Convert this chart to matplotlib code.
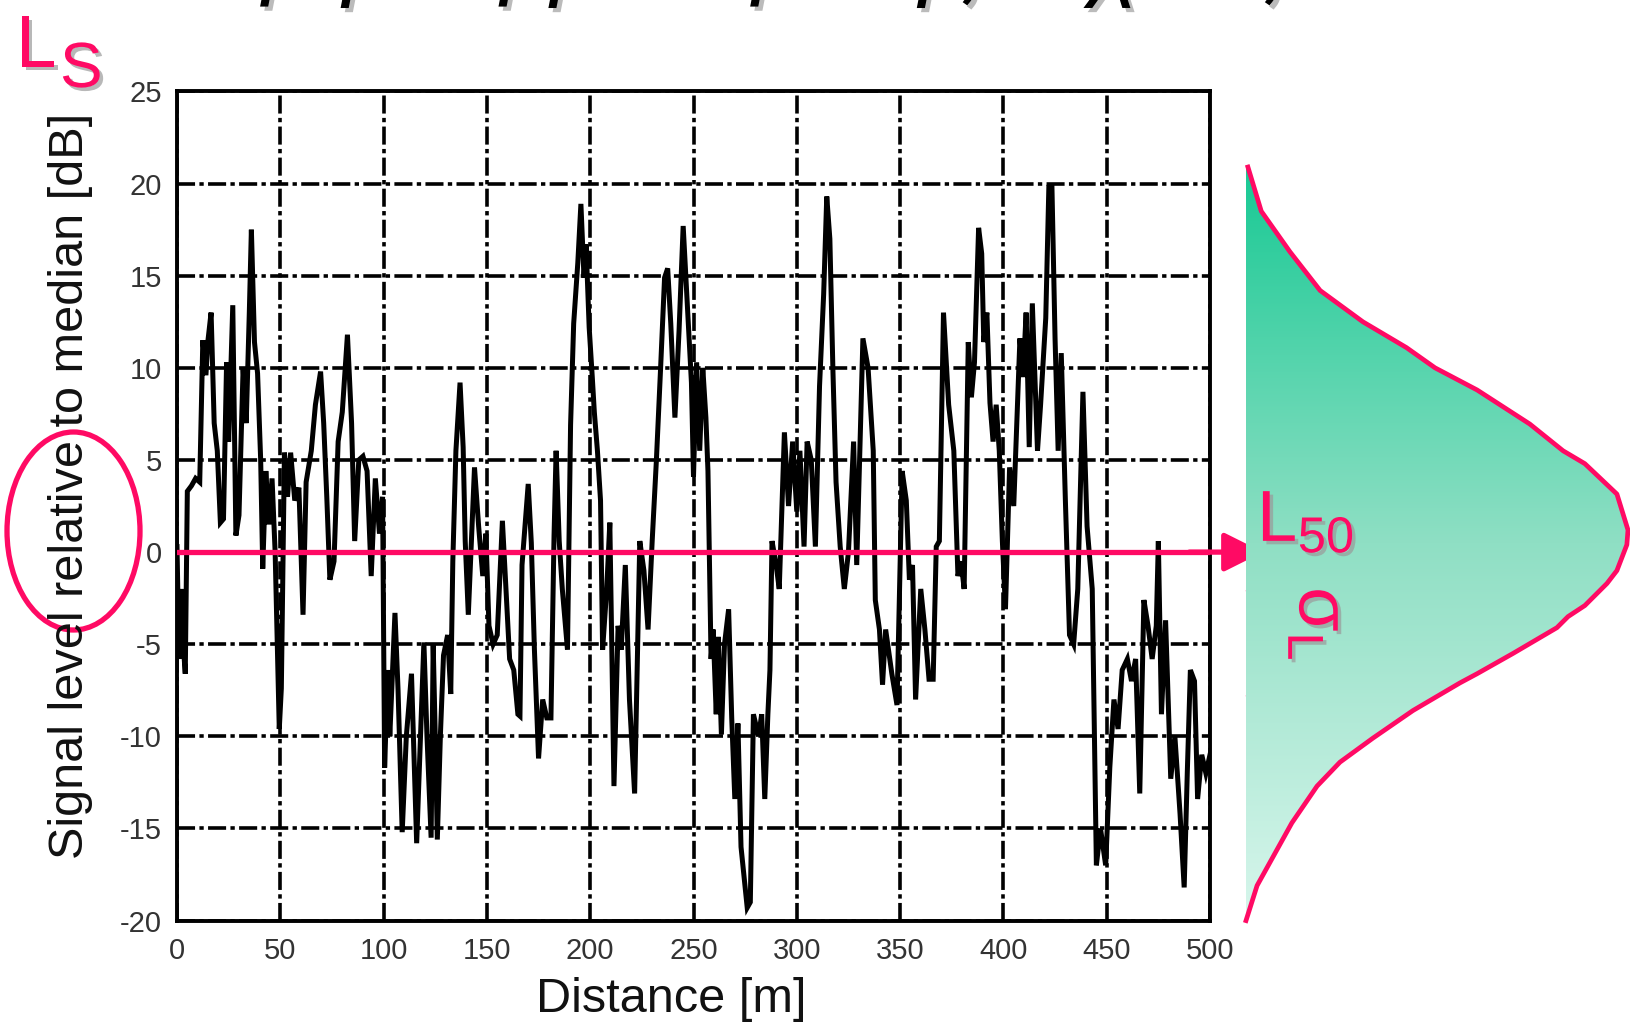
import matplotlib
matplotlib.use("Agg")
import matplotlib.pyplot as plt
import matplotlib.patheffects as pe
from matplotlib.patches import Ellipse, Polygon
from matplotlib.colors import LinearSegmentedColormap
import numpy as np

plt.rcParams['font.family'] = ['Liberation Sans', 'DejaVu Sans']
plt.rcParams['axes.unicode_minus'] = False

# ---------------- data ----------------
distance_m = [0, 1, 2, 3, 4, 5, 7, 9, 11, 12.5, 14, 15, 16.5, 18, 19.5, 21, 22.5, 24, 25, 27,
              28.5, 30, 32, 33.5, 35, 36, 37.5, 39, 40.5, 41.5, 43, 44.5, 46, 47.5, 49.5, 50.5,
              52, 53.5, 55, 57, 59, 61, 62.5, 65, 67, 69.5, 71, 72.5, 74, 76, 78, 80, 82.5, 84.5,
              86, 88, 90, 92, 94, 96, 98, 99.5, 100.5, 102, 103, 105.5, 107, 109, 111, 113.5, 116,
              119.5, 121, 123,
              124, 125, 126, 127.5, 129, 131, 132.5, 133.5, 135, 137, 138.5, 139.5, 141, 144, 146,
              148, 149.5, 151, 153, 155, 157.5, 161, 163, 165, 166, 167, 170, 171.5, 173, 175, 177,
              179, 181, 182.5, 183.5, 185, 186.5, 189, 190.5, 192, 194, 195.5, 197, 198, 199.5, 201,
              202, 203.5, 205, 206, 208, 209.5, 211.5, 213.5, 215, 217, 219, 221.5, 224, 226, 228,
              230, 232, 234, 236, 237.5, 239, 241, 243, 245, 247, 249, 250, 251.5,
              253, 254.5, 256, 257, 258.5, 259.5, 261, 262, 263.5, 265, 267, 268.5, 270, 271.5, 273,
              276, 277.5, 279, 281.5, 283, 284.5, 286, 287, 288, 290, 291.5, 294, 296, 298, 300,
              301.5, 303.5, 305, 307, 309, 311, 313, 314.5, 316, 317.5, 319, 321, 323, 325, 327.5,
              329, 332, 334.5, 337, 338, 340, 341.5, 343, 346, 348.5, 351, 353, 354.5, 356, 357.5,
              360, 362, 364, 366, 367.5, 369, 371, 373.5, 376, 378,
              379.5, 381, 383, 384.5, 386, 388, 389.5, 390.5, 392, 393.5, 395, 396.5, 398, 399.5,
              401, 403, 405, 408, 409.5, 411, 412.5, 414, 416.5, 418, 420.5, 422, 423.5, 425, 426.5,
              428, 430, 432, 434, 436, 438.5, 440.5, 443, 445, 447, 449.5, 451.5, 453.5, 455.5,
              457.5, 460, 462, 464, 466, 468, 470, 472, 474, 475, 476.5, 478.5, 481, 483, 485.5,
              487.5, 489, 490.5, 492.5, 494, 496, 498, 500]

level_db = [0.3, -5.8, -2, -5, -6.6, 3.3, 3.6, 4, 3.8, 11.5, 9.6, 11.5, 13, 7, 5.5, 1.6, 1.8, 10.3, 6, 13.4,
            0.9, 2, 10, 7, 13, 17.5, 11.4, 9.7, 5, -0.9, 4.4, 1.5, 4, 0, -9.6, -7.4,
            5.4, 3, 5.4, 2.8, 3.5, -3.4, 3.8, 5.5, 8, 9.8, 7, 3, -1.5, -0.5, 6, 7.6, 11.8, 7,
            0.6, 5, 5.2, 4.4, -1.3, 4, 1, 3, -11.7, -6.4, -10, -3.3, -7.5, -15.2, -10, -6.6, -15.8,
            -4.9, -10, -15.5,
            -5, -10, -15.6, -9.9, -5.6, -4.5, -7.7, -0.5, 5.5, 9.2, 5.7, 0.6, -3.4, 4.6, 1.4,
            -1.3, 1, -4, -5, -4.5, 1.7, -5.8, -6.4, -8.8, -8.9, -0.7, 3.7, 0.5, -5.3, -11.2, -8,
            -9, -9, 0.9, 5.5, 0.6, -2, -5.3, 6.9, 12.4, 15.7, 18.9, 14.9, 16.7, 12.2, 9.5,
            7.6, 5.5, 2.8, -5.3, -2, 1.6, -12.7, -4, -5.3, -0.7, -8, -13.1, 0.6, -1, -4.2,
            0.6, 4.9, 9.8, 14.9, 15.4, 12.4, 7.3, 12, 17.7, 13.5, 9.2, 4.1, 10.3,
            5.5, 10, 7.3, 4.4, -5.8, -4.2, -8.8, -4.6, -9.9, -5, -3.1, -9, -13.4, -9.3, -16,
            -19.3, -19, -8.8, -10, -8.8, -13.4, -8.8, -6.4, 0.6, -0.7, -2, 6.5, 2.5, 6, 2.2,
            5.5, 0.3, 6, 5, 0.3, 9, 14, 19.3, 17, 9.8, 3.8, 0.3, -2, 0, 6,
            -0.7, 11.6, 10, 5.5, -2.6, -4.2, -7.2, -4.2, -6.6, -8.3, 4.4, 2.8, -1.5, -0.7, -8,
            -2, -4.2, -6.9, -6.9, 0.3, 0.6, 13, 8, 5.5, -1.3,
            -0.5, -2, 11.4, 8.4, 10.3, 17.6, 16.2, 11.4, 13, 8.1, 6, 8, 5.5, 0.6,
            -3.1, 4.6, 2.5, 11.6, 9.5, 13, 5.7, 13.5, 5.5, 8, 12.7, 19.8, 19.8, 11.6, 5.5,
            10.8, 2.8, -4.5, -5, -2, 8.7, 1.4, -2, -17, -15, -17, -11.7, -8, -9.6,
            -6.4, -5.8, -7, -5.8, -13.1, -2.6, -4, -5.8, -4, 0.6, -8.8, -3.7, -12.3, -10, -14.2,
            -18.2, -12, -6.4, -7, -13.4, -11, -12, -11]

x_ticks = [0, 50, 100, 150, 200, 250, 300, 350, 400, 450, 500]
y_ticks = [-20, -15, -10, -5, 0, 5, 10, 15, 20, 25]

# distribution sketch on the right (level in dB, relative density)
pdf_level_db = [20.9, 18.5, 16.3, 14.2, 12.5, 11.1, 10.0, 8.8, 6.95, 5.5, 4.8, 3.15, 1.2, 0.4,
                -1.0, -1.7, -2.9, -3.5, -4.1, -5.5, -6.6, -7.1, -8.6, -10.1, -11.4, -12.7,
                -14.7, -18.1, -20.0]
pdf_density = [0.005, 0.04, 0.115, 0.194, 0.306, 0.42, 0.495, 0.605, 0.743, 0.83, 0.887, 0.971,
               1.0, 0.997, 0.971, 0.945, 0.887, 0.843, 0.814, 0.699, 0.605, 0.56, 0.437, 0.332,
               0.246, 0.186, 0.12, 0.029, 0.0]

title_text = "Στάθμη Λαμβανόμενης Ισχύος"
median_db = 0
sigma_db = 9.7

PINK = '#ff0a64'
W, H = 1631, 1027

fig = plt.figure(figsize=(W / 100, H / 100), dpi=100)

def fx(px):
    return px / W

def fy(py):
    return 1 - py / H

ax_l, ax_r, ax_t, ax_b = 177, 1210, 91.5, 920.6
ax = fig.add_axes([fx(ax_l), fy(ax_b), fx(ax_r - ax_l), (ax_b - ax_t) / H])
ax.set_xlim(0, 500)
ax.set_ylim(-20, 25)
ax.set_xticks(x_ticks)
ax.set_yticks(y_ticks)
ax.set_xticklabels([str(v) for v in x_ticks])
ax.set_yticklabels([str(v) for v in y_ticks])
ax.tick_params(length=0, labelsize=21, labelcolor='#333333')
ax.tick_params(axis='x', pad=12)
ax.tick_params(axis='y', pad=11)
for s in ax.spines.values():
    s.set_linewidth(2.8)
    s.set_color('black')
ax.grid(True, color='black', linewidth=2.6, linestyle=(0, (5, 1.2, 1.2, 1.2)))
ax.set_axisbelow(True)

ax.plot(distance_m, level_db, color='black', linewidth=3.6, solid_joinstyle='miter', zorder=3)

# median arrow (pink)
ax.axhline(median_db, xmin=0, xmax=1, color=PINK, linewidth=3.8, zorder=5)
tip_x = (1263 - ax_l) / (ax_r - ax_l) * 500
ax.annotate('', xy=(tip_x, median_db), xytext=(490, median_db),
            arrowprops=dict(arrowstyle='-|>,head_length=1.0,head_width=0.5', color=PINK,
                            lw=3.8, mutation_scale=24, shrinkA=0, shrinkB=0),
            annotation_clip=False, zorder=6)
ax.annotate('', xy=(tip_x, median_db - sigma_db), xytext=(tip_x, median_db - 0.2),
            arrowprops=dict(arrowstyle='<|-|>,head_length=0.9,head_width=0.45', color=PINK,
                            lw=3.2, mutation_scale=24, shrinkA=0, shrinkB=0),
            annotation_clip=False, zorder=6)

# distribution axes
px0, px1 = 1246, 1628
dax = fig.add_axes([fx(px0), fy(ax_b), fx(px1 - px0), (ax_b - ax_t) / H])
dax.set_xlim(0, 1)
dax.set_ylim(-20, 25)
dax.axis('off')
dax.patch.set_alpha(0)
cmap = LinearSegmentedColormap.from_list('g', ['#d8f6ec', '#8fdfc4', '#18c994'])
grad = np.linspace(0, 1, 256).reshape(-1, 1)
im = dax.imshow(grad, extent=[0, 1, -20, 21], origin='lower', cmap=cmap, aspect='auto', zorder=1)
poly = Polygon(list(zip(pdf_density, pdf_level_db)) + [(0, -20), (0, 21)], closed=True,
               facecolor='none', edgecolor='none', transform=dax.transData)
dax.add_patch(poly)
im.set_clip_path(poly)
dax.plot(pdf_density, pdf_level_db, color=PINK, linewidth=3.4, clip_on=False, zorder=3)

shadow = [pe.SimplePatchShadow(offset=(2.5, -2.5), shadow_rgbFace='#9a9a9a', alpha=0.7), pe.Normal()]

fig.text(fx(1257), fy(541), r'$\mathregular{L_{50}}$', color=PINK, fontsize=52,
         ha='left', va='baseline', path_effects=shadow)
fig.text(fx(1318), fy(624), r'$\mathregular{\sigma_L}$', color=PINK, fontsize=52,
         rotation=270, ha='center', va='center', path_effects=shadow)
fig.text(fx(16), fy(67), 'L', color=PINK, fontsize=53,
         ha='left', va='baseline', path_effects=shadow)
fig.text(fx(60), fy(87), 'S', color=PINK, fontsize=46,
         ha='left', va='baseline', path_effects=shadow)

# axis labels
fig.text(fx(671), fy(1000), 'Distance [m]', fontsize=35, ha='center', va='center', color='#111111')
fig.text(fx(71), fy(486), 'Signal level relative to median [dB]', fontsize=35, rotation=90,
         ha='center', va='center', color='#111111')

# ellipse highlight
ell = Ellipse((fx(73.5), fy(531)), fx(133), 198 / H, transform=fig.transFigure,
              facecolor='none', edgecolor=PINK, linewidth=3.8)
fig.add_artist(ell)

# title (cut off at the top)
fig.text(fx(75), 1 + 11.0 / H, title_text, fontsize=66, style='italic', ha='left',
         va='baseline', color='black',
         path_effects=[pe.SimplePatchShadow(offset=(3, -3), shadow_rgbFace='#aaaaaa', alpha=0.8),
                       pe.Normal()])

fig.savefig('out.png', dpi=100)
